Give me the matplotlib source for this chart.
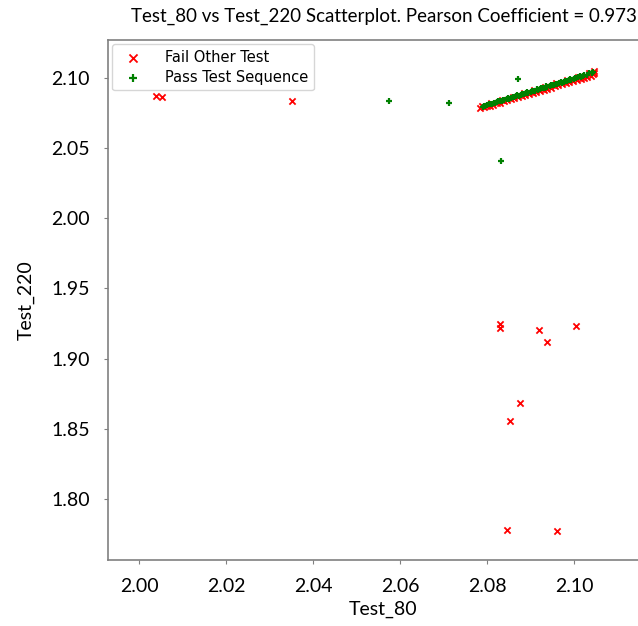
import numpy as np
import matplotlib.pyplot as plt

# Fail Other Test (red x)
fail_x = [2.0040, 2.0053, 2.0351,
          2.0831, 2.0831, 2.0919, 2.1004, 2.0939, 2.0877, 2.0852, 2.0846, 2.0962,
          2.0785, 2.0792, 2.0799, 2.0806, 2.0814, 2.0822, 2.0830, 2.0838, 2.0846, 2.0855,
          2.0863, 2.0871, 2.0880, 2.0888, 2.0897, 2.0905, 2.0913, 2.0922, 2.0930, 2.0939,
          2.0947, 2.0956, 2.0964, 2.0972, 2.0981, 2.0989, 2.0998, 2.1006, 2.1015, 2.1023,
          2.1031, 2.1038, 2.1044, 2.1047,
          2.0788, 2.0809, 2.0834, 2.0859, 2.0884, 2.0909, 2.0934, 2.0959, 2.0984, 2.1009,
          2.1034, 2.1046]
fail_y = [2.0872, 2.0862, 2.0833,
          1.9220, 1.9250, 1.9204, 1.9232, 1.9115, 1.8687, 1.8558, 1.7780, 1.7773,
          2.0786, 2.0790, 2.0797, 2.0803, 2.0810, 2.0818, 2.0824, 2.0832, 2.0839, 2.0848,
          2.0854, 2.0862, 2.0870, 2.0877, 2.0885, 2.0893, 2.0900, 2.0908, 2.0915, 2.0923,
          2.0931, 2.0939, 2.0946, 2.0953, 2.0962, 2.0969, 2.0977, 2.0985, 2.0993, 2.1000,
          2.1008, 2.1016, 2.1026, 2.1036,
          2.0800, 2.0820, 2.0843, 2.0867, 2.0890, 2.0914, 2.0938, 2.0962, 2.0985, 2.1009,
          2.1033, 2.1046]

# Pass Test Sequence (green +)
pass_x = [2.0575, 2.0713, 2.0871, 2.0832,
          2.0790, 2.0796, 2.0801, 2.0807, 2.0812, 2.0818, 2.0823, 2.0829, 2.0834, 2.0840,
          2.0845, 2.0851, 2.0856, 2.0862, 2.0867, 2.0873, 2.0878, 2.0884, 2.0889, 2.0895,
          2.0900, 2.0906, 2.0911, 2.0917, 2.0922, 2.0928, 2.0933, 2.0939, 2.0944, 2.0950,
          2.0955, 2.0961, 2.0966, 2.0972, 2.0977, 2.0983, 2.0988, 2.0994, 2.0999, 2.1005,
          2.1010, 2.1016, 2.1021, 2.1030, 2.1042,
          2.0793, 2.0804, 2.0815, 2.0826, 2.0837, 2.0848, 2.0859, 2.0870, 2.0881, 2.0892,
          2.0903, 2.0914, 2.0925, 2.0936, 2.0947, 2.0958, 2.0969, 2.0980, 2.0991, 2.1002,
          2.1013, 2.1024, 2.1035, 2.1044]
pass_y = [2.0832, 2.0822, 2.0993, 2.0409,
          2.0795, 2.0801, 2.0805, 2.0811, 2.0816, 2.0822, 2.0826, 2.0832, 2.0837, 2.0842,
          2.0847, 2.0853, 2.0857, 2.0863, 2.0868, 2.0874, 2.0878, 2.0884, 2.0889, 2.0894,
          2.0899, 2.0905, 2.0910, 2.0915, 2.0920, 2.0926, 2.0930, 2.0936, 2.0941, 2.0946,
          2.0951, 2.0957, 2.0962, 2.0967, 2.0972, 2.0978, 2.0983, 2.0988, 2.0993, 2.0999,
          2.1003, 2.1009, 2.1014, 2.1022, 2.1033,
          2.0803, 2.0813, 2.0824, 2.0834, 2.0845, 2.0855, 2.0866, 2.0876, 2.0887, 2.0897,
          2.0907, 2.0918, 2.0928, 2.0939, 2.0949, 2.0960, 2.0970, 2.0981, 2.0991, 2.1001,
          2.1012, 2.1022, 2.1034, 2.1040]

x_ticks = [2.00, 2.02, 2.04, 2.06, 2.08, 2.10]
y_ticks = [1.80, 1.85, 1.90, 1.95, 2.00, 2.05, 2.10]

font = ['Lato', 'DejaVu Sans']

fig = plt.figure(figsize=(6.38, 6.26), dpi=100)
ax = fig.add_axes([108/638, 66/626, 550/638, 520/626])

ax.scatter(fail_x, fail_y, marker='x', color='red', s=20, linewidths=1.3, label='Fail Other Test')
ax.scatter(pass_x, pass_y, marker='+', color='green', s=22, linewidths=1.6, label='Pass Test Sequence')

ax.set_xlim(1.99287, 2.11931)
ax.set_ylim(1.7565, 2.1270)
ax.set_xticks(x_ticks)
ax.set_yticks(y_ticks)
ax.set_xticklabels(['%.2f' % v for v in x_ticks], family=font, fontsize=14)
ax.set_yticklabels(['%.2f' % v for v in y_ticks], family=font, fontsize=14)
ax.tick_params(length=3, color='#808080', pad=10)
for s in ax.spines.values():
    s.set_color('#808080')
    s.set_linewidth(1.2)
ax.spines['right'].set_visible(False)  # cropped off in the original

ax.set_xlabel('Test_80', family=font, fontsize=14, labelpad=4)
ax.set_ylabel('Test_220', family=font, fontsize=14, labelpad=12)

leg = ax.legend(loc='upper left', fontsize=10.5, borderaxespad=0.3, handletextpad=1.2,
                labelspacing=0.3, frameon=True, markerscale=1.3)

fig.text(637/638, 1 - 16/626, 'Test_80 vs Test_220 Scatterplot. Pearson Coefficient = 0.973',
         ha='right', va='center', family=font, fontsize=13.5)

fig.savefig('out.png', dpi=100)
